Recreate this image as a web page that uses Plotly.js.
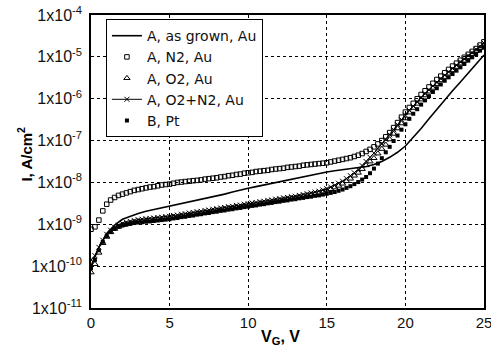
<!DOCTYPE html>
<html>
<head>
<meta charset="utf-8">
<script src="https://cdn.plot.ly/plotly-3.0.1.min.js"></script>
<style>html,body{margin:0;padding:0;background:#fff;}#chart{width:491px;height:350px;}</style>
</head>
<body>
<div id="chart"></div>
<script>
// Gate voltage samples (V) for the marker series
const V = [0,0.25,0.5,0.75,1,1.25,1.5,1.75,2,2.25,2.5,2.75,3,3.25,3.5,3.75,4,4.25,4.5,4.75,
  5,5.25,5.5,5.75,6,6.25,6.5,6.75,7,7.25,7.5,7.75,8,8.25,8.5,8.75,9,9.25,9.5,9.75,
  10,10.25,10.5,10.75,11,11.25,11.5,11.75,12,12.25,12.5,12.75,13,13.25,13.5,13.75,14,14.25,14.5,14.75,
  15,15.25,15.5,15.75,16,16.25,16.5,16.75,17,17.25,17.5,17.75,18,18.25,18.5,18.75,19,19.25,19.5,19.75,
  20,20.25,20.5,20.75,21,21.25,21.5,21.75,22,22.25,22.5,22.75,23,23.25,23.5,23.75,24,24.25,24.5,24.75,25];

// A, N2, Au (open squares), A/cm2
const I_N2 = [7.6e-10,8.7e-10,1.26e-9,2.09e-9,3.02e-9,3.80e-9,4.37e-9,4.90e-9,5.25e-9,5.62e-9,
  6.03e-9,6.46e-9,6.76e-9,7.08e-9,7.41e-9,7.76e-9,7.94e-9,8.32e-9,8.71e-9,8.91e-9,
  9.12e-9,9.55e-9,1.0e-8,1.02e-8,1.05e-8,1.07e-8,1.10e-8,1.12e-8,1.15e-8,1.20e-8,
  1.23e-8,1.26e-8,1.29e-8,1.35e-8,1.38e-8,1.45e-8,1.48e-8,1.55e-8,1.58e-8,1.66e-8,
  1.70e-8,1.74e-8,1.82e-8,1.86e-8,1.91e-8,1.95e-8,2.04e-8,2.09e-8,2.14e-8,2.19e-8,
  2.29e-8,2.34e-8,2.40e-8,2.45e-8,2.57e-8,2.63e-8,2.69e-8,2.75e-8,2.82e-8,2.88e-8,
  2.95e-8,3.09e-8,3.24e-8,3.39e-8,3.55e-8,3.72e-8,3.89e-8,4.17e-8,4.47e-8,4.90e-8,
  5.50e-8,6.17e-8,7.08e-8,8.32e-8,1.0e-7,1.23e-7,1.55e-7,2.04e-7,2.69e-7,3.63e-7,
  4.79e-7,6.17e-7,7.76e-7,1.0e-6,1.26e-6,1.55e-6,1.91e-6,2.34e-6,2.88e-6,3.47e-6,
  4.17e-6,5.01e-6,6.03e-6,7.08e-6,8.32e-6,9.77e-6,1.15e-5,1.35e-5,1.58e-5,1.91e-5,2.29e-5];

// A, O2, Au (open triangles)
const I_O2 = [7.08e-11,1.12e-10,2.09e-10,3.55e-10,5.01e-10,6.46e-10,7.76e-10,8.71e-10,9.55e-10,1.02e-9,
  1.07e-9,1.12e-9,1.17e-9,1.20e-9,1.23e-9,1.26e-9,1.29e-9,1.32e-9,1.35e-9,1.38e-9,
  1.41e-9,1.48e-9,1.51e-9,1.58e-9,1.62e-9,1.70e-9,1.74e-9,1.82e-9,1.86e-9,1.95e-9,
  2.00e-9,2.09e-9,2.14e-9,2.24e-9,2.29e-9,2.40e-9,2.45e-9,2.57e-9,2.63e-9,2.75e-9,
  2.82e-9,2.95e-9,3.02e-9,3.16e-9,3.24e-9,3.39e-9,3.47e-9,3.63e-9,3.72e-9,3.89e-9,
  3.98e-9,4.17e-9,4.27e-9,4.47e-9,4.68e-9,4.90e-9,5.13e-9,5.37e-9,5.62e-9,6.03e-9,
  6.46e-9,6.92e-9,7.59e-9,8.32e-9,9.33e-9,1.07e-8,1.23e-8,1.45e-8,1.70e-8,2.09e-8,
  2.57e-8,3.16e-8,3.80e-8,4.90e-8,6.31e-8,7.94e-8,1.07e-7,1.45e-7,1.95e-7,2.57e-7,
  3.39e-7,4.68e-7,6.03e-7,7.59e-7,9.55e-7,1.20e-6,1.48e-6,1.82e-6,2.24e-6,2.75e-6,
  3.31e-6,3.98e-6,4.79e-6,5.75e-6,6.92e-6,8.13e-6,9.77e-6,1.15e-5,1.38e-5,1.62e-5,1.95e-5];

// A, O2+N2, Au (x marks with line)
const I_O2N2 = [1.41e-10,1.78e-10,2.82e-10,4.17e-10,5.75e-10,7.24e-10,8.51e-10,9.55e-10,1.05e-9,1.12e-9,
  1.17e-9,1.23e-9,1.29e-9,1.32e-9,1.35e-9,1.38e-9,1.41e-9,1.45e-9,1.48e-9,1.51e-9,
  1.55e-9,1.62e-9,1.66e-9,1.74e-9,1.78e-9,1.86e-9,1.91e-9,2.00e-9,2.04e-9,2.14e-9,
  2.19e-9,2.29e-9,2.34e-9,2.45e-9,2.51e-9,2.63e-9,2.69e-9,2.82e-9,2.88e-9,3.02e-9,
  3.09e-9,3.24e-9,3.31e-9,3.47e-9,3.55e-9,3.72e-9,3.80e-9,3.98e-9,4.07e-9,4.27e-9,
  4.37e-9,4.57e-9,4.68e-9,4.90e-9,5.13e-9,5.37e-9,5.62e-9,5.89e-9,6.17e-9,6.61e-9,
  7.08e-9,7.76e-9,8.51e-9,9.55e-9,1.07e-8,1.23e-8,1.45e-8,1.70e-8,2.04e-8,2.51e-8,
  3.16e-8,3.98e-8,5.01e-8,6.46e-8,8.32e-8,1.07e-7,1.38e-7,1.82e-7,2.40e-7,3.16e-7,
  4.07e-7,5.25e-7,6.61e-7,8.32e-7,1.05e-6,1.32e-6,1.62e-6,2.00e-6,2.45e-6,3.02e-6,
  3.63e-6,4.37e-6,5.25e-6,6.31e-6,7.59e-6,8.91e-6,1.07e-5,1.26e-5,1.51e-5,1.78e-5,2.14e-5];

// B, Pt (filled squares)
const I_BPt = [8.91e-11,1.41e-10,2.40e-10,3.80e-10,5.25e-10,6.61e-10,7.76e-10,8.71e-10,9.33e-10,9.77e-10,
  1.02e-9,1.07e-9,1.10e-9,1.12e-9,1.15e-9,1.17e-9,1.20e-9,1.23e-9,1.26e-9,1.29e-9,
  1.32e-9,1.38e-9,1.41e-9,1.48e-9,1.51e-9,1.58e-9,1.62e-9,1.70e-9,1.74e-9,1.82e-9,
  1.86e-9,1.95e-9,2.00e-9,2.09e-9,2.14e-9,2.24e-9,2.29e-9,2.40e-9,2.45e-9,2.57e-9,
  2.63e-9,2.75e-9,2.82e-9,2.95e-9,3.02e-9,3.16e-9,3.24e-9,3.39e-9,3.47e-9,3.63e-9,
  3.72e-9,3.89e-9,3.98e-9,4.17e-9,4.27e-9,4.47e-9,4.57e-9,4.79e-9,4.90e-9,5.13e-9,
  5.37e-9,5.62e-9,5.89e-9,6.31e-9,6.76e-9,7.41e-9,8.13e-9,9.12e-9,1.02e-8,1.17e-8,
  1.35e-8,1.66e-8,2.14e-8,2.82e-8,3.80e-8,5.25e-8,7.08e-8,9.77e-8,1.32e-7,1.82e-7,
  2.45e-7,3.31e-7,4.37e-7,5.62e-7,7.24e-7,9.12e-7,1.15e-6,1.45e-6,1.78e-6,2.19e-6,
  2.69e-6,3.24e-6,3.89e-6,4.68e-6,5.62e-6,6.76e-6,8.13e-6,9.77e-6,1.17e-5,1.41e-5,1.70e-5];

// A, as grown, Au (solid line)
const V_grown = [0,0.5,1,1.5,2,2.5,3,3.5,4,4.5,5,5.5,6,6.5,7,7.5,8,8.5,9,9.5,
  10,10.5,11,11.5,12,12.5,13,13.5,14,14.5,15,15.5,16,16.5,17,17.5,18,18.5,19,19.5,
  20,20.5,21,21.5,22,22.5,23,23.5,24,24.5,25];
const I_grown = [1.0e-10,2.82e-10,6.03e-10,9.55e-10,1.32e-9,1.58e-9,1.82e-9,2.04e-9,2.24e-9,2.45e-9,
  2.69e-9,2.95e-9,3.24e-9,3.55e-9,3.89e-9,4.27e-9,4.68e-9,5.25e-9,5.89e-9,6.61e-9,
  7.24e-9,7.94e-9,8.71e-9,9.55e-9,1.05e-8,1.15e-8,1.26e-8,1.38e-8,1.51e-8,1.62e-8,
  1.78e-8,1.91e-8,2.04e-8,2.14e-8,2.24e-8,2.40e-8,2.69e-8,3.16e-8,3.98e-8,5.25e-8,
  7.41e-8,1.17e-7,1.95e-7,3.31e-7,5.62e-7,9.33e-7,1.55e-6,2.51e-6,4.07e-6,6.61e-6,1.10e-5];

const seriesNames = ['A, as grown, Au','A, N2, Au','A, O2, Au','A, O2+N2, Au','B, Pt'];
const xTickVals = [0,5,10,15,20,25];
const yTickVals = [1e-11,1e-10,1e-9,1e-8,1e-7,1e-6,1e-5,1e-4];
const yTickText = ['1x10<sup>-11</sup>','1x10<sup>-10</sup>','1x10<sup>-9</sup>','1x10<sup>-8</sup>',
  '1x10<sup>-7</sup>','1x10<sup>-6</sup>','1x10<sup>-5</sup>','1x10<sup>-4</sup>'];

const FONT = 'Liberation Sans, Arial, sans-serif';
const LEGFONT = 'DejaVu Sans, Liberation Sans, sans-serif';
const traces = [
  {x: V_grown, y: I_grown, name: seriesNames[0], mode: 'lines',
   line: {color: '#000', width: 1.6}},
  {x: V, y: I_N2, name: seriesNames[1], mode: 'markers',
   marker: {symbol: 'square-open', size: 4.5, color: '#000', line: {width: 1, color: '#000'}}},
  {x: V, y: I_O2, name: seriesNames[2], mode: 'markers',
   marker: {symbol: 'triangle-up-open', size: 5.5, color: '#000', line: {width: 1, color: '#000'}}},
  {x: V, y: I_O2N2, name: seriesNames[3], mode: 'lines+markers',
   line: {color: '#000', width: 1},
   marker: {symbol: 'x-thin-open', size: 5, color: '#000', line: {width: 1, color: '#000'}}},
  {x: V, y: I_BPt, name: seriesNames[4], mode: 'markers',
   marker: {symbol: 'square', size: 4, color: '#000', line: {width: 0}}}
];

const layout = {
  width: 491, height: 350,
  margin: {l: 91, r: 7, t: 15, b: 42, pad: 0},
  paper_bgcolor: '#fff', plot_bgcolor: '#fff',
  font: {family: FONT, size: 15, color: '#111'},
  showlegend: true,
  legend: {x: 0.038, y: 0.986, xanchor: 'left', yanchor: 'top',
    bgcolor: '#fff', bordercolor: '#000', borderwidth: 1,
    font: {family: LEGFONT, size: 14, color: '#111'},
    traceorder: 'normal', itemwidth: 30},
  xaxis: {range: [0, 25], tickvals: xTickVals, ticks: '', showgrid: true,
    gridcolor: '#000', gridwidth: 1, griddash: '3px,3px',
    showline: true, mirror: true, linecolor: '#000', linewidth: 1.8,
    ticklabeloverflow: 'allow',
    zeroline: false, tickfont: {family: FONT, size: 15, color: '#111'}},
  yaxis: {type: 'log', range: [-11, -4], tickvals: yTickVals, ticktext: yTickText, ticks: '',
    showgrid: true, gridcolor: '#000', gridwidth: 1, griddash: '3px,3px',
    showline: true, mirror: true, linecolor: '#000', linewidth: 1.8,
    ticklabelstandoff: 4, ticklabeloverflow: 'allow',
    zeroline: false, tickfont: {family: FONT, size: 16, color: '#111'}},
  annotations: [
    {text: '<b>I, A/cm<sup>2</sup></b>', xref: 'paper', yref: 'paper', x: -0.168, y: 0.527,
     xanchor: 'center', yanchor: 'middle', textangle: -90, showarrow: false,
     font: {family: FONT, size: 15, color: '#000'}},
    {text: '<b>V<sub>G</sub>, V</b>', xref: 'paper', yref: 'paper', x: 0.483, y: -0.1,
     xanchor: 'center', yanchor: 'middle', showarrow: false,
     font: {family: FONT, size: 16, color: '#000'}}
  ]
};

Plotly.newPlot('chart', traces, layout, {displayModeBar: false, staticPlot: true});
</script>
</body>
</html>
